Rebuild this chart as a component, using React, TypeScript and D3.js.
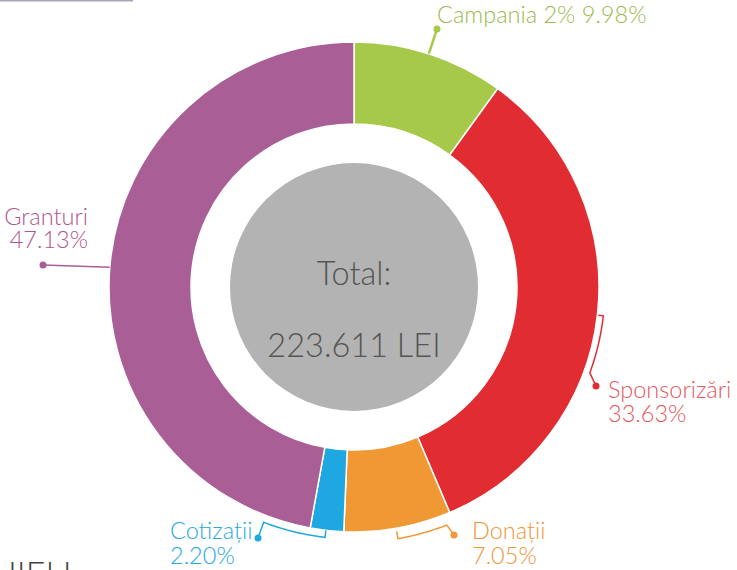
import React from "react";
import * as d3 from "d3";

const categories = ["Campania 2%", "Sponsorizări", "Donații", "Cotizații", "Granturi"];
const percents = [9.98, 33.63, 7.05, 2.2, 47.13];
const percentLabels = ["9.98%", "33.63%", "7.05%", "2.20%", "47.13%"];
const colors = ["#a6c94a", "#e12d31", "#f09833", "#1ea7e1", "#a95f96"];
const textColors = ["#9cb94f", "#e5585b", "#f0953a", "#28a8e0", "#b05690"];
const totalLabel = "Total:";
const totalValue = "223.611 LEI";

const W = 737;
const H = 570;
const cx = 354;
const cy = 287;
const rOuter = 245;
const rInner = 163;
const rGrey = 124;

const deg = (a: number) => (a * Math.PI) / 180;
const pt = (angDeg: number, r: number): [number, number] => [
  cx + r * Math.sin(deg(angDeg)),
  cy - r * Math.cos(deg(angDeg)),
];

type Ann = {
  bracket?: { a0: number; a1: number; r: number; tickR: number };
  lineFrom?: { a: number; r: number };
  dot: [number, number];
  text: [number, number];
  anchor: "start" | "end";
  lines: 1 | 2;
  gap: number;
};
const annotations: Ann[] = [
  { lineFrom: { a: 17.8, r: 245 }, dot: [437, 29], text: [437, 23], anchor: "start", lines: 1, gap: 0 },
  { bracket: { a0: 96.6, a1: 110, r: 251, tickR: 246 }, dot: [596, 386], text: [608, 398], anchor: "start", lines: 2, gap: 24 },
  { bracket: { a0: 170.1, a1: 158.7, r: 255.5, tickR: 248 }, dot: [454, 535], text: [472, 539], anchor: "start", lines: 2, gap: 25 },
  { bracket: { a0: 186.6, a1: 201, r: 252, tickR: 245 }, dot: [258, 538], text: [170, 539], anchor: "start", lines: 2, gap: 25 },
  { lineFrom: { a: 274.6, r: 245 }, dot: [43, 265], text: [88, 225], anchor: "end", lines: 2, gap: 23 },
];

export default function App() {
  const pie = d3
    .pie<number>()
    .sort(null)
    .value((d) => d)
    .startAngle(0)
    .endAngle(2 * Math.PI);
  const arcs = pie(percents);
  const arc = d3.arc<d3.PieArcDatum<number>>().innerRadius(rInner).outerRadius(rOuter);

  const font = "Lato, 'Open Sans', sans-serif";
  const fs = 23.5;

  return (
    <svg
      width={W}
      height={H}
      style={{ position: "absolute", left: 0, top: 0, background: "#fff" }}
    >
      <line x1={0} x2={133} y1={0.5} y2={0.5} stroke="#a3a6b6" strokeWidth={2} />
      <g transform={`translate(${cx},${cy})`}>
        {arcs.map((a, i) => (
          <path key={i} d={arc(a) || ""} fill={colors[i]} stroke="#fff" strokeWidth={1.5} />
        ))}
        <circle r={rGrey} fill="#b2b3b2" />
      </g>
      <text x={cx} y={285} textAnchor="middle" fontFamily={font} fontWeight={300} fontSize={32.5} fill="#555">
        {totalLabel}
      </text>
      <text x={cx} y={357} textAnchor="middle" fontFamily={font} fontWeight={300} fontSize={32.5} fill="#555">
        {totalValue}
      </text>
      {annotations.map((an, i) => {
        let path = "";
        if (an.bracket) {
          const b = an.bracket;
          const t0 = pt(b.a0, b.tickR);
          const s0 = pt(b.a0, b.r);
          const n = 20;
          const pts: [number, number][] = [t0, s0];
          for (let k = 1; k <= n; k++) {
            pts.push(pt(b.a0 + ((b.a1 - b.a0) * k) / n, b.r));
          }
          pts.push(an.dot);
          path = d3.line()(pts) || "";
        } else if (an.lineFrom) {
          path = d3.line()([pt(an.lineFrom.a, an.lineFrom.r), an.dot]) || "";
        }
        const label = an.lines === 1 ? `${categories[i]} ${percentLabels[i]}` : categories[i];
        return (
          <g key={i}>
            <path d={path} fill="none" stroke={colors[i]} strokeWidth={i === 0 ? 2.5 : 1.5} />
            <circle cx={an.dot[0]} cy={an.dot[1]} r={3.5} fill={colors[i]} />
            <text x={an.text[0]} y={an.text[1]} textAnchor={an.anchor} fontFamily={font} fontWeight={300} fontSize={fs} fill={textColors[i]}>
              {label}
            </text>
            {an.lines === 2 && (
              <text x={an.text[0]} y={an.text[1] + an.gap} textAnchor={an.anchor} fontFamily={font} fontWeight={300} fontSize={fs} fill={textColors[i]}>
                {percentLabels[i]}
              </text>
            )}
          </g>
        );
      })}
      <text x={8} y={586} fontFamily={font} fontWeight={300} fontSize={34} fill="#444">
        IIELI
      </text>
    </svg>
  );
}
